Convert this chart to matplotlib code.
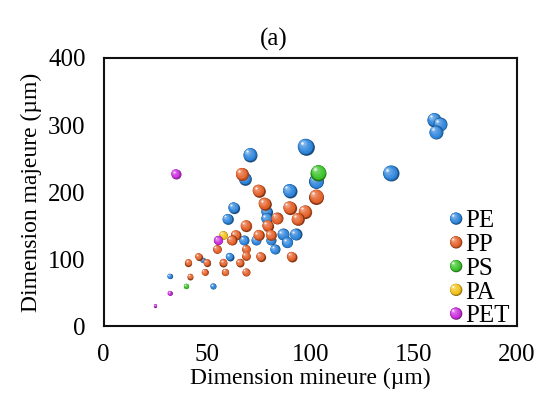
import matplotlib
matplotlib.use('Agg')
import matplotlib.pyplot as plt
import matplotlib.colors as mcolors
from matplotlib.transforms import offset_copy
from matplotlib.patches import Circle
from matplotlib.legend_handler import HandlerBase

plt.rcParams['font.family'] = ['Liberation Serif', 'DejaVu Serif']

# dimension mineure, dimension majeure (µm), bubble value (taille relative)
pe_x = [98, 71, 68.5, 103, 90, 63, 79, 79, 60, 87, 93, 68, 74, 81, 89, 83, 61, 48, 32, 53,
        160, 163, 161, 139]
pe_y = [268, 256, 220, 216, 202, 177, 171, 161, 160, 137, 137, 128, 128, 128, 125, 115, 104, 99, 75, 60,
        308, 301, 289, 228]
pe_v = [16.7, 14, 12.7, 15, 14, 11.3, 11.3, 11.3, 10.7, 12, 12, 10, 10, 10, 11.3, 10, 8, 5.3, 5.3, 6,
        14, 14, 14, 16]

pp_x = [67, 75, 103, 78, 90, 97.5, 84, 94, 69, 79.5, 64, 75, 81, 62, 55, 69, 69, 46, 76, 91,
        41, 50, 58, 66, 42, 49, 59, 69]
pp_y = [227, 202, 193, 183, 177, 171, 161, 160, 150, 150, 136, 136, 136, 128, 115, 115, 105, 104, 104, 104,
        95, 95, 95, 95, 74, 81, 81, 81]
pp_v = [13, 12.7, 15, 12.7, 13.3, 13.3, 12, 12.7, 11.3, 11.3, 10, 10.7, 10.7, 10, 8.7, 8.7, 8.7, 7.3, 9.3, 10,
        7.3, 7.3, 8, 8, 6, 6.7, 7.3, 8]

ps_x = [104, 40]
ps_y = [229, 60]
ps_v = [16, 5.3]

pa_x = [58]
pa_y = [136]
pa_v = [8.7]

pet_x = [35, 55.6, 32, 25]
pet_y = [227, 128, 50, 31]
pet_v = [10, 9.3, 4.7, 3.3]

series = [
    ('PE', pe_x, pe_y, pe_v, '#2f86dc'),
    ('PP', pp_x, pp_y, pp_v, '#e4612a'),
    ('PS', ps_x, ps_y, ps_v, '#3cc42c'),
    ('PA', pa_x, pa_y, pa_v, '#f3c21a'),
    ('PET', pet_x, pet_y, pet_v, '#cc30de'),
]

# shading layers: (size fraction, shift toward top-left, tone -1 dark .. 0 base .. 1 light)
LAYERS = [(1.0, 0.0, -0.7), (0.93, 0.035, -0.35), (0.86, 0.06, 0.0),
          (0.7, 0.11, 0.15), (0.52, 0.16, 0.32), (0.34, 0.21, 0.55)]


def mix(c1, c2, t):
    a = mcolors.to_rgb(c1)
    b = mcolors.to_rgb(c2)
    return tuple(a[i] + (b[i] - a[i]) * t for i in range(3))


def tone(color, t):
    if t < 0:
        return mix(color, 'black', -t * 0.6)
    return mix(color, 'white', t * 0.7)


def draw_sphere(ax, fig, x, y, diam_px, color, z):
    d_pt = diam_px * 72 / fig.dpi
    for f, off, t in LAYERS:
        tr = offset_copy(ax.transData, fig=fig, x=-d_pt * off, y=d_pt * off, units='points')
        ax.scatter([x], [y], s=(d_pt * f) ** 2, color=tone(color, t), linewidths=0,
                   transform=tr, zorder=z)
    tr = offset_copy(ax.transData, fig=fig, x=-d_pt * 0.24, y=d_pt * 0.24, units='points')
    ax.scatter([x], [y], s=(d_pt * 0.16) ** 2, color='white', alpha=0.85,
               linewidths=0, transform=tr, zorder=z)


class SphereHandler(HandlerBase):
    def __init__(self, color):
        super().__init__()
        self.color = color

    def create_artists(self, legend, orig_handle, xdescent, ydescent,
                       width, height, fontsize, trans):
        cx = width / 2 - xdescent
        cy = height / 2 - ydescent
        r = 4.4
        arts = []
        for f, off, t in LAYERS:
            arts.append(Circle((cx - 2 * r * off, cy + 2 * r * off), r * f,
                               color=tone(self.color, t), lw=0, transform=trans))
        arts.append(Circle((cx - r * 0.48, cy + r * 0.48), r * 0.16, color='white',
                           alpha=0.85, lw=0, transform=trans))
        return arts


fig = plt.figure(figsize=(5.51, 3.97), dpi=100)
ax = fig.add_axes([0.188, 0.178, 0.750, 0.676])

z = 2
handles = []
handler_map = {}
for name, xs, ys, vs, color in series:
    for x, y, v in zip(xs, ys, vs):
        draw_sphere(ax, fig, x, y, v, color, z)
        z += 1
    h = ax.scatter([], [], label=name)
    handles.append(h)
    handler_map[h] = SphereHandler(color)

ax.set_xlim(0, 200)
ax.set_ylim(0, 400)
ax.set_xticks([0, 50, 100, 150, 200])
ax.set_yticks([0, 100, 200, 300, 400])
ax.tick_params(length=0, labelsize=18, pad=13)
for s in ax.spines.values():
    s.set_linewidth(1.5)
    s.set_color('#111111')

ax.set_xlabel('Dimension mineure (µm)', fontsize=17, labelpad=1)
ax.set_ylabel('Dimension majeure (µm)', fontsize=17, labelpad=4)
fig.text(0.497, 0.9, '(a)', fontsize=18, ha='center', va='center')

ax.legend(handles=handles, handler_map=handler_map, loc='lower right',
          bbox_to_anchor=(1.02, -0.06), frameon=False, fontsize=18,
          handlelength=0.45, handletextpad=0.15, labelspacing=0.05,
          borderaxespad=0.2)

fig.savefig('out.png', dpi=100)
